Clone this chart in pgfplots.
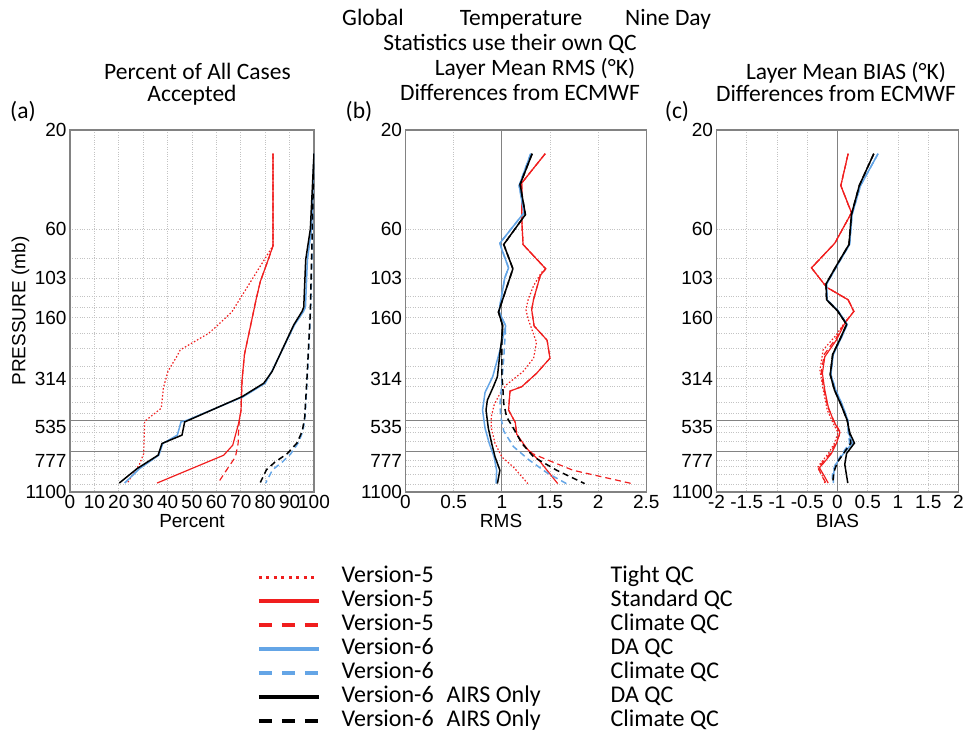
\documentclass[border=0pt]{standalone}
\usepackage{fontspec}
\setmainfont{Liberation Sans}
\newfontfamily\calfont{Carlito}
\usepackage{pgfplots}
\pgfplotsset{compat=1.18}
\definecolor{vred}{RGB}{240,30,30}
\definecolor{vblue}{RGB}{100,165,230}
\definecolor{axgray}{RGB}{130,130,130}
\definecolor{gridgray}{RGB}{195,195,195}
\tikzset{
 v5t/.style={vred, line width=1.2pt, dash pattern=on 1.5pt off 2pt},
 v5s/.style={vred, line width=1.2pt},
 v5c/.style={vred, line width=1.2pt, dash pattern=on 6pt off 4pt},
 v6s/.style={vblue, line width=1.5pt},
 v6c/.style={vblue, line width=1.5pt, dash pattern=on 6pt off 4pt},
 v6as/.style={black, line width=1.5pt},
 v6ac/.style={black, line width=1.5pt, dash pattern=on 6pt off 4pt},
}
\pgfplotsset{every axis/.append style={
  scale only axis, height=362pt, anchor=south west,
  ymajorgrids, yminorgrids, xmajorgrids,
  major grid style={gridgray, dotted, line width=0.8pt},
  minor grid style={gridgray, dotted, line width=0.8pt},
  major tick length=0pt, minor tick length=0pt,
  axis line style={axgray, line width=1.3pt},
  tick label style={font=\fontsize{19}{22}\selectfont},
  label style={font=\fontsize{19}{22}\selectfont},
  extra y ticks={500,706}, extra y tick labels={},
  extra y tick style={grid=major, major grid style={axgray, solid, line width=1.1pt}},
  xlabel style={at={(axis description cs:0.5,0)}, anchor=north, yshift=-22pt, inner sep=0pt},
}}
\newcommand{\tf}{\calfont\fontsize{23.5}{25}\selectfont}
\begin{document}
\begin{tikzpicture}
\useasboundingbox (0,0) rectangle (964pt,737pt);
% ---------------- panel (a)
\begin{axis}[at={(70pt,245pt)}, width=244pt,
  ymode=log, y dir=reverse, ymin=20, ymax=1100,
  ytick={20,60,103,160,314,535,777,1100},
  yticklabels={20,60,103,160,314,535,777,1100},
  minor ytick={83.2,125.6,142.4,190.3,223.4,272.9,343.6,407.5,459.7,566,627,827.4,904.9,1014},
  xmin=0, xmax=100, xtick={0,10,20,30,40,50,60,70,80,90,100},
  xticklabels={0,10,20,30,40,50,60,70,80,90,100},
  xlabel={Percent}, ylabel={PRESSURE (mb)},
  ylabel style={at={(axis description cs:-0.203,0.5)}, anchor=center, inner sep=0pt}]
\addplot[v5t] coordinates {(83.2,26) (83.2,72) (66.3,150) (60,176) (56.8,190) (45.2,228) (43.7,246) (40.2,288) (38.3,346) (37.4,435) (30.6,503) (30.2,720) (28.5,808) (23.4,1000)};
\addplot[v5c] coordinates {(83.2,26) (83.2,72) (81.4,83) (78,107) (76.3,130) (75.4,146) (71.5,240) (70.5,320) (70.1,444) (69.3,515) (69,586) (68.9,643) (67.8,746) (65,834) (60.8,990)};
\addplot[v5s] coordinates {(83.2,26) (83.2,72) (81.4,83) (78,107) (76.3,130) (75.4,146) (71.5,240) (70.5,320) (70.1,444) (69.1,515) (67.8,586) (66.7,655) (63,732) (35.7,996)};
\addplot[v6s] coordinates {(100,26) (99,60) (97.3,84) (96.5,142) (95.7,149) (92,173) (83,285) (80,330) (71,383) (48,497) (45.5,506) (44,586) (38,643) (36.4,732) (28.5,849) (22.4,996)};
\addplot[v6c] coordinates {(100,26) (99.5,60) (98.6,150) (97.3,300) (96.3,480) (95.5,560) (93.5,640) (90.5,720) (87,790) (83,860) (80.2,996)};
\addplot[v6as] coordinates {(100,26) (98.5,60) (96.6,84) (95.8,142) (95.1,149) (91.7,173) (82.8,290) (79.4,330) (70.5,383) (48.6,497) (47,506) (45.9,586) (37.7,643) (36.1,732) (27.5,849) (20.2,996)};
\addplot[v6ac] coordinates {(100,26) (99.3,60) (98.5,150) (97.2,300) (96.2,480) (95.2,560) (93,640) (89,720) (84,790) (80.5,860) (78,990)};
\end{axis}
% ---------------- panel (b)
\begin{axis}[at={(405.5pt,245pt)}, width=240.8pt,
  ymode=log, y dir=reverse, ymin=20, ymax=1100,
  ytick={20,60,103,160,314,535,777,1100},
  yticklabels={20,60,103,160,314,535,777,1100},
  minor ytick={83.2,125.6,142.4,190.3,223.4,272.9,343.6,407.5,459.7,566,627,827.4,904.9,1014},
  xmin=0, xmax=2.5, xtick={0,0.5,1,1.5,2,2.5},
  xticklabels={0,0.5,1,1.5,2,2.5},
  extra x ticks={1}, extra x tick labels={},
  extra x tick style={grid=major, major grid style={axgray, solid, line width=1.1pt}},
  xlabel={RMS}, xlabel style={at={(axis description cs:0.397,0)}},
  legend image code/.code={\draw[#1] (0pt,0pt) -- (60pt,0pt);},
  legend style={at={(axis description cs:-0.629,-0.196)}, anchor=north west,
    draw=none, fill=none, font=\calfont\fontsize{24}{24}\selectfont,
    row sep=0pt, column sep=21pt,
    nodes={inner sep=0pt, text height=17pt, text depth=7pt}},
  legend cell align=left]
\addplot[v5t, forget plot] coordinates {(1.45,26) (1.206,36) (1.206,52) (1.22,71) (1.456,93) (1.41,97) (1.33,112) (1.275,130) (1.25,146) (1.275,163) (1.36,210) (1.33,250) (1.22,290) (1.05,335) (0.98,370) (0.92,420) (0.89,480) (0.89,540) (0.93,643) (1.0,746) (1.12,834) (1.27,1002)};
\addplot[v5c, forget plot] coordinates {(1.45,26) (1.206,36) (1.206,52) (1.22,71) (1.456,93) (1.40,100) (1.33,130) (1.31,146) (1.335,175) (1.47,205) (1.5,250) (1.36,296) (1.206,343) (1.085,360) (1.07,444) (1.14,510) (1.15,560) (1.2,640) (1.32,720) (1.47,770) (1.74,865) (2.35,1002)};
\addplot[v5s, forget plot] coordinates {(1.45,26) (1.206,36) (1.206,52) (1.22,71) (1.456,93) (1.40,100) (1.33,130) (1.31,146) (1.335,175) (1.47,205) (1.5,250) (1.36,296) (1.206,343) (1.085,360) (1.07,444) (1.14,510) (1.155,580) (1.26,680) (1.4,788) (1.58,1002)};
\addplot[v6s, forget plot] coordinates {(1.30,26) (1.18,37) (1.23,50) (0.98,70) (1.0,75) (1.07,92) (1.03,103) (0.97,149) (1.04,175) (0.98,230) (0.905,307) (0.826,365) (0.80,444) (0.826,543) (0.87,643) (0.92,746) (0.946,865) (0.94,1002)};
\addplot[v6c, forget plot] coordinates {(1.30,26) (1.18,37) (1.23,50) (0.98,70) (1.0,75) (1.07,92) (1.03,103) (0.97,149) (1.04,175) (1.02,250) (1.0,330) (0.98,420) (0.99,480) (1.02,560) (1.12,665) (1.28,770) (1.47,890) (1.67,1002)};
\addplot[v6as, forget plot] coordinates {(1.315,26) (1.19,36.5) (1.245,51) (1.02,71) (1.115,93) (0.965,150) (1.01,175) (1.0,200) (0.98,237) (0.954,307) (0.912,343) (0.85,398) (0.836,444) (0.86,543) (0.895,643) (0.93,746) (0.98,865) (0.954,1002)};
\addplot[v6ac, forget plot] coordinates {(1.315,26) (1.19,36.5) (1.245,51) (1.02,71) (1.115,93) (0.965,150) (1.01,175) (1.0,200) (1.0,250) (1.0,300) (1.01,343) (1.02,413) (1.05,479) (1.12,543) (1.21,643) (1.33,746) (1.57,865) (1.86,1002)};
\addlegendimage{vred, line width=3pt, dash pattern=on 3pt off 4.5pt}
\addlegendentry{\makebox[269pt][l]{Version-5}Tight QC}
\addlegendimage{vred, line width=3.5pt}
\addlegendentry{\makebox[269pt][l]{Version-5}Standard QC}
\addlegendimage{vred, line width=3.5pt, dash pattern=on 13pt off 10pt}
\addlegendentry{\makebox[269pt][l]{Version-5}Climate QC}
\addlegendimage{vblue, line width=3.5pt}
\addlegendentry{\makebox[269pt][l]{Version-6}DA QC}
\addlegendimage{vblue, line width=3.5pt, dash pattern=on 13pt off 10pt}
\addlegendentry{\makebox[269pt][l]{Version-6}Climate QC}
\addlegendimage{black, line width=3.5pt}
\addlegendentry{\makebox[269pt][l]{Version-6\hspace{13pt}AIRS Only}DA QC}
\addlegendimage{black, line width=3.5pt, dash pattern=on 13pt off 10pt}
\addlegendentry{\makebox[269pt][l]{Version-6\hspace{13pt}AIRS Only}Climate QC}
\end{axis}
% ---------------- panel (c)
\begin{axis}[at={(716.5pt,245pt)}, width=242pt,
  ymode=log, y dir=reverse, ymin=20, ymax=1100,
  ytick={20,60,103,160,314,535,777,1100},
  yticklabels={20,60,103,160,314,535,777,1100},
  minor ytick={83.2,125.6,142.4,190.3,223.4,272.9,343.6,407.5,459.7,566,627,827.4,904.9,1014},
  xmin=-2, xmax=2, xtick={-2,-1.5,-1,-0.5,0,0.5,1,1.5,2},
  xticklabels={-2,-1.5,-1,-0.5,0,0.5,1,1.5,2},
  extra x ticks={0}, extra x tick labels={},
  extra x tick style={grid=major, major grid style={axgray, solid, line width=1.1pt}},
  xlabel={BIAS}]
\addplot[v5t] coordinates {(0.176,26) (0.055,37) (0.231,50) (-0.044,70) (-0.43,92) (-0.18,114) (0.176,131) (0.27,149) (0.1,172) (-0.03,195) (-0.237,228) (-0.29,285) (-0.24,350) (-0.17,444) (-0.07,515) (0.01,570) (-0.05,640) (-0.15,718) (-0.28,800) (-0.33,840) (-0.24,931) (-0.21,996)};
\addplot[v5c] coordinates {(0.176,26) (0.055,37) (0.231,50) (-0.044,70) (-0.43,92) (-0.18,114) (0.176,131) (0.27,149) (0.11,170) (-0.02,200) (-0.22,240) (-0.27,296) (-0.22,356) (-0.16,430) (-0.06,500) (0.05,570) (-0.03,640) (-0.12,718) (-0.26,803) (-0.32,840) (-0.25,931) (-0.19,996)};
\addplot[v5s] coordinates {(0.176,26) (0.055,37) (0.231,50) (-0.044,70) (-0.43,92) (-0.18,114) (0.176,131) (0.27,149) (0.12,170) (-0.016,204) (-0.21,246) (-0.25,296) (-0.21,356) (-0.154,428) (-0.07,497) (0.04,570) (-0.016,640) (-0.1,718) (-0.237,803) (-0.3,840) (-0.21,931) (-0.154,996)};
\addplot[v6s] coordinates {(0.67,26) (0.38,37) (0.24,51) (0.2,71) (0.01,88) (-0.18,110) (-0.17,131) (0.01,148) (0.16,172) (0.06,200) (-0.07,240) (-0.11,300) (-0.03,356) (0.08,420) (0.17,497) (0.18,570) (0.25,640) (0.1,718) (-0.02,803) (-0.06,880) (-0.07,996)};
\addplot[v6c] coordinates {(0.67,26) (0.38,37) (0.24,51) (0.2,71) (0.01,88) (-0.18,110) (-0.17,131) (0.01,148) (0.16,172) (0.06,200) (-0.07,240) (-0.11,300) (-0.03,356) (0.08,420) (0.17,497) (0.18,570) (0.2,640) (0.08,718) (-0.03,803) (-0.08,880) (-0.09,996)};
\addplot[v6as] coordinates {(0.6,26) (0.36,37) (0.23,51) (0.19,71) (0.0,88) (-0.19,110) (-0.18,131) (0.0,148) (0.15,172) (0.05,200) (-0.08,240) (-0.12,300) (-0.05,356) (0.06,420) (0.16,497) (0.2,570) (0.28,640) (0.15,718) (0.12,810) (0.17,996)};
\addplot[v6ac] coordinates {(0.6,26) (0.36,37) (0.23,51) (0.19,71) (0.0,88) (-0.19,110) (-0.18,131) (0.0,148) (0.15,172) (0.05,200) (-0.08,240) (-0.12,300) (-0.05,356) (0.06,420) (0.16,497) (0.2,570) (0.22,640) (0.1,718) (0.0,790) (-0.06,880) (-0.08,996)};
\end{axis}
% ---------------- titles
\node[anchor=base, font=\tf] at (373pt,711pt) {Global};
\node[anchor=base, font=\tf] at (521pt,711pt) {Temperature};
\node[anchor=base, font=\tf] at (668pt,711pt) {Nine Day};
\node[anchor=base, font=\tf] at (510pt,686pt) {Statistics use their own QC};
\node[anchor=base, font=\tf] at (535pt,661pt) {Layer Mean RMS (°K)};
\node[anchor=base, font=\tf] at (520pt,636pt) {Differences from ECMWF};
\node[anchor=base, font=\tf] at (197.5pt,657pt) {Percent of All Cases};
\node[anchor=base, font=\tf] at (192pt,635pt) {Accepted};
\node[anchor=base, font=\tf] at (846pt,657pt) {Layer Mean BIAS (°K)};
\node[anchor=base, font=\tf] at (836pt,635pt) {Differences from ECMWF};
\node[anchor=base, font=\tf] at (23pt,618pt) {(a)};
\node[anchor=base, font=\tf] at (359pt,618pt) {(b)};
\node[anchor=base, font=\tf] at (677pt,618pt) {(c)};
\end{tikzpicture}
\end{document}
